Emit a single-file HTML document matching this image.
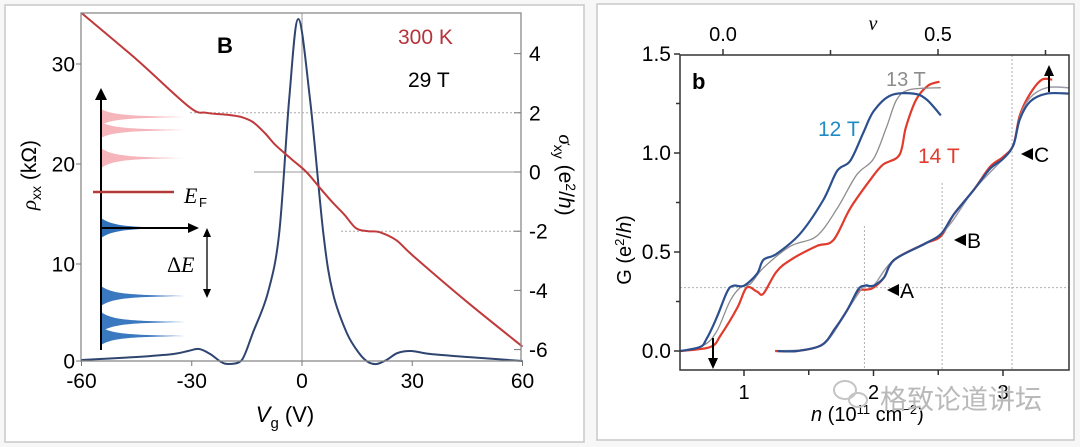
<!DOCTYPE html>
<html><head><meta charset="utf-8">
<style>
html,body{margin:0;padding:0;background:#fff;}
svg{display:block;font-family:"Liberation Sans",Arial,sans-serif;}
</style></head>
<body>
<svg id="fig" width="1080" height="447" viewBox="0 0 1080 447" xmlns="http://www.w3.org/2000/svg">
  <rect x="0" y="0" width="1080" height="447" fill="#f7f7f7"/>
  <rect x="5" y="5" width="579" height="437" fill="#fff" stroke="#c8c8c8" stroke-width="1.5"/>
  <rect x="597" y="4" width="477" height="436" fill="#fff" stroke="#c8c8c8" stroke-width="1.5"/>
  <g id="left"></g>
  <g id="right"></g>
  <text x="880" y="409" font-family="'Liberation Sans','Noto Sans CJK SC',sans-serif" font-size="27" fill="#b9b9b9">格致论道讲坛</text>
  <g fill="none" stroke="#c4c4c4" stroke-width="2"><ellipse cx="845" cy="390" rx="11" ry="9"/><ellipse cx="858" cy="400" rx="9" ry="7"/></g>
</svg>
<script>
// ===== Left panel data =====
const vgTicks = [-60,-30,0,30,60];
const rhoTicks = [0,10,20,30];
const sigmaTicks = [4,2,0,-2,-4,-6];
const sigmaV = [-60,-45,-30.7,-26,-20,-16.6,-13.4,-10,-7.2,-3,1.2,5.3,8.5,11.6,14.7,18,21,25.6,30.3,45,60];
const sigmaVal = [5.37,3.8,2.2,2.0,1.93,1.86,1.69,1.3,0.91,0.45,0,-0.6,-1.05,-1.45,-1.9,-2.0,-2.03,-2.3,-2.84,-4.4,-5.9];
const rhoV = [-60,-45,-35,-31,-28,-25,-22,-20,-17,-15.5,-13.4,-9.3,-6.2,-3.5,-1,2.2,5.8,8.4,12.2,15.7,18,20.3,23,26,29.7,35,45,60];
const rhoVal = [0.4,0.7,1.0,1.3,1.5,1.0,0.2,0.0,0.2,1.0,3.1,7.1,13.1,26.4,34.5,26.4,13.1,7.1,3.1,1.0,0.2,0.0,0.4,1.1,1.3,1.0,0.7,0.3];

// ===== Right panel data =====
const nTicks = [1,2,3];
const nMinor = [1.5,2.5];
const gTicks = [0.0,0.5,1.0,1.5];
const nuTicks = [0.0,0.5];
const t12n = [0.51,0.66,0.71,0.79,0.87,0.92,1.0,1.1,1.15,1.25,1.43,1.61,1.72,1.82,1.92,2.0,2.13,2.31,2.41,2.52];
const t12g = [0,0.02,0.06,0.17,0.30,0.33,0.33,0.39,0.46,0.49,0.59,0.76,0.91,0.96,1.10,1.21,1.29,1.30,1.27,1.19];
const t13n = [0.51,0.69,0.79,0.89,0.97,1.05,1.15,1.36,1.56,1.72,1.87,2.0,2.1,2.18,2.28,2.52];
const t13g = [0,0.03,0.10,0.25,0.32,0.34,0.42,0.53,0.58,0.72,0.89,0.97,1.13,1.27,1.32,1.33];
const t14n = [0.51,0.74,0.82,0.95,1.02,1.1,1.15,1.25,1.36,1.56,1.69,1.82,1.97,2.07,2.2,2.25,2.33,2.42,2.51];
const t14g = [0,0.02,0.08,0.22,0.32,0.30,0.29,0.40,0.46,0.53,0.56,0.72,0.86,0.94,0.99,1.13,1.27,1.34,1.36];
const rBn = [1.26,1.41,1.6,1.7,1.8,1.88,1.93,2.0,2.08,2.16,2.39,2.52,2.62,2.77,2.9,3.0,3.08,3.13,3.21,3.34,3.51];
const rBg = [0,0,0.03,0.11,0.21,0.31,0.33,0.33,0.37,0.46,0.54,0.59,0.69,0.81,0.92,0.97,1.04,1.17,1.26,1.30,1.30];
const rRn = [1.24,1.41,1.6,1.7,1.8,1.88,1.95,2.0,2.08,2.16,2.39,2.52,2.62,2.77,2.9,3.0,3.08,3.13,3.21,3.3,3.38];
const rRg = [0,0,0.03,0.11,0.21,0.30,0.31,0.32,0.37,0.46,0.54,0.58,0.69,0.81,0.93,0.98,1.04,1.19,1.30,1.37,1.37];
const rGn = [1.26,1.6,1.8,1.93,2.0,2.16,2.52,2.77,3.0,3.08,3.13,3.21,3.34,3.51];
const rGg = [0,0.03,0.21,0.33,0.33,0.46,0.59,0.81,0.97,1.04,1.18,1.28,1.33,1.33];

const NS='http://www.w3.org/2000/svg';
function mk(parent, tag, attrs, text){
  const e=document.createElementNS(NS,tag);
  for(const k in attrs) e.setAttribute(k,attrs[k]);
  if(text!==undefined) e.textContent=text;
  parent.appendChild(e); return e;
}
function smooth(pts){
  let d='M'+pts[0][0].toFixed(1)+','+pts[0][1].toFixed(1);
  for(let i=0;i<pts.length-1;i++){
    const p0=pts[Math.max(0,i-1)],p1=pts[i],p2=pts[i+1],p3=pts[Math.min(pts.length-1,i+2)];
    const c1=[p1[0]+(p2[0]-p0[0])/6,p1[1]+(p2[1]-p0[1])/6];
    const c2=[p2[0]-(p3[0]-p1[0])/6,p2[1]-(p3[1]-p1[1])/6];
    d+=' C'+c1[0].toFixed(1)+','+c1[1].toFixed(1)+' '+c2[0].toFixed(1)+','+c2[1].toFixed(1)+' '+p2[0].toFixed(1)+','+p2[1].toFixed(1);
  }
  return d;
}

// ===== Left chart =====
const L=document.getElementById('left');
const xV=v=>302+3.675*v;
const yR=r=>364-10*r;
const yS=s=>172-29.6*s;
const LX0=81,LX1=521,LY0=13,LY1=361;
const gridL=mk(L,'g',{});


mk(gridL,'line',{x1:xV(0),x2:xV(0),y1:LY0,y2:LY1,stroke:'#9a9a9a','stroke-width':1});
mk(gridL,'line',{x1:190,x2:LX1,y1:yS(2),y2:yS(2),stroke:'#aaa','stroke-width':1,'stroke-dasharray':'2,2'});
mk(gridL,'line',{x1:254,x2:LX1,y1:yS(0),y2:yS(0),stroke:'#9a9a9a','stroke-width':1});
mk(gridL,'line',{x1:341,x2:LX1,y1:yS(-2),y2:yS(-2),stroke:'#aaa','stroke-width':1,'stroke-dasharray':'2,2'});

// inset
const ins=mk(L,'g',{});


function peak(c,h,tip,col){ mk(ins,'path',{d:`M101,${c-h} C112,${c-2} 130,${c-1} ${tip},${c} C130,${c+1} 112,${c+2} 101,${c+h} Z`,fill:col}); }
peak(117,8,185,'#f5b5ba');peak(130,8,185,'#f5b5ba');peak(158,10,184,'#f5b5ba');
peak(228,10,170,'#2f6fb8');peak(296,10,185,'#3a78c0');peak(322,10,185,'#3a78c0');peak(336,9,185,'#3a78c0');
mk(ins,'line',{x1:101,y1:350,x2:101,y2:98,stroke:'#000','stroke-width':2});
mk(ins,'path',{d:'M95,100 L101,88 L107,100 Z',fill:'#000'});
mk(ins,'line',{x1:101,y1:228,x2:190,y2:228,stroke:'#000','stroke-width':2});
mk(ins,'path',{d:'M188,223 L199,228 L188,233 Z',fill:'#000'});
mk(ins,'line',{x1:93,y1:192,x2:174,y2:192,stroke:'#b33a3a','stroke-width':2.5});
mk(ins,'text',{x:184,y:203,'font-family':'Liberation Serif,serif','font-style':'italic','font-size':22},'E');
mk(ins,'text',{x:199,y:207,'font-family':'Liberation Sans,sans-serif','font-size':13},'F');
mk(ins,'line',{x1:207,y1:234,x2:207,y2:292,stroke:'#000','stroke-width':1.3});
mk(ins,'path',{d:'M203,237 L207,228 L211,237 Z M203,289 L207,298 L211,289 Z',fill:'#000'});
mk(ins,'text',{x:167,y:272,'font-family':'Liberation Serif,serif','font-size':22},'Δ');
mk(ins,'text',{x:181,y:272,'font-family':'Liberation Serif,serif','font-style':'italic','font-size':22},'E');

// series
const rhoPts=rhoV.map((v,i)=>[xV(v),yR(rhoVal[i])]);
const rhoLine=mk(L,'path',{d:smooth(rhoPts),fill:'none',stroke:'#2f4570','stroke-width':2});


const sigPts=sigmaV.map((v,i)=>[xV(v),yS(sigmaVal[i])]);
const sigLine=mk(L,'path',{d:smooth(sigPts),fill:'none',stroke:'#c0393b','stroke-width':2});



// axes
const frameL=mk(L,'rect',{x:LX0,y:LY0,width:LX1-LX0,height:LY1-LY0,fill:'none',stroke:'#8a8a8a','stroke-width':1.3});


vgTicks.forEach(v=>{
  mk(L,'line',{x1:xV(v),x2:xV(v),y1:LY1,y2:LY1+5,stroke:'#777'});
  const t=mk(L,'text',{x:xV(v),y:388,'text-anchor':'middle','font-size':21},String(v));
  
  
});
rhoTicks.forEach(r=>{
  const y=Math.min(yR(r),LY1);
  mk(L,'line',{x1:LX0-5,x2:LX0,y1:y,y2:y,stroke:'#777'});
  const t=mk(L,'text',{x:75,y:y+7.5,'text-anchor':'end','font-size':21},String(r));
  
  
});
sigmaTicks.forEach(s=>{
  mk(L,'line',{x1:LX1-7,x2:LX1,y1:yS(s),y2:yS(s),stroke:'#777'});
  const t=mk(L,'text',{x:529,y:yS(s)+7.5,'font-size':21},String(s));
  
  
});
let t;
t=mk(L,'text',{transform:'translate(36,175) rotate(-90)','text-anchor':'middle','font-size':21});
t.innerHTML='<tspan font-family="Liberation Serif,serif" font-style="italic">ρ</tspan><tspan font-size="14" dy="5">xx</tspan><tspan dy="-5"> (kΩ)</tspan>';


t=mk(L,'text',{transform:'translate(559,175) rotate(90)','text-anchor':'middle','font-size':21});
t.innerHTML='<tspan font-family="Liberation Serif,serif" font-style="italic">σ</tspan><tspan font-size="14" dy="5">xy</tspan><tspan dy="-5"> (e</tspan><tspan font-size="14" dy="-7">2</tspan><tspan dy="7">/</tspan><tspan font-style="italic">h</tspan>)';


t=mk(L,'text',{x:285,y:422,'text-anchor':'middle','font-size':22});
t.innerHTML='<tspan font-style="italic">V</tspan><tspan font-size="15" dy="6">g</tspan><tspan dy="-6"> (V)</tspan>';


t=mk(L,'text',{x:225,y:53,'text-anchor':'middle','font-size':22,'font-weight':'bold'},'B');


t=mk(L,'text',{x:398,y:44,'font-size':21,fill:'#b5333a'},'300 K');


t=mk(L,'text',{x:408,y:87,'font-size':21},'29 T');



// ===== Right chart =====
const R=document.getElementById('right');
const xN=n=>744+129.5*(n-1);
const yG=g=>351-198*g;
const xNu=u=>723+430*u;
const RX0=680,RX1=1069,RY0=55,RY1=370;
const gr=mk(R,'g',{stroke:'#b0b0b0','stroke-width':1,'stroke-dasharray':'2,2'});


mk(gr,'line',{x1:RX0,x2:RX1,y1:yG(0.32),y2:yG(0.32)});
mk(gr,'line',{x1:xN(1.93),x2:xN(1.93),y1:226,y2:RY1});
mk(gr,'line',{x1:xN(2.53),x2:xN(2.53),y1:183,y2:RY1});
mk(gr,'line',{x1:xN(3.07),x2:xN(3.07),y1:RY0,y2:RY1});

function curve(ns,gs,col,w,name){
  const p=mk(R,'path',{d:smooth(ns.map((n,i)=>[xN(n),yG(gs[i])])),fill:'none',stroke:col,'stroke-width':w});
  
  
}
curve(rRn,rRg,'#e03b2c',2.2,'curve-right-14t');
curve(rGn,rGg,'#9a9aa8',1.5,'curve-right-13t');
curve(rBn,rBg,'#2c4f8e',2.2,'curve-right-12t');
curve(t14n,t14g,'#e03b2c',2.2,'curve-14t');
curve(t13n,t13g,'#8d8d8d',1.3,'curve-13t');
curve(t12n,t12g,'#2c4f8e',2.2,'curve-12t');

const frameR=mk(R,'rect',{x:RX0,y:RY0,width:RX1-RX0,height:RY1-RY0,fill:'none',stroke:'#333','stroke-width':1.5});


nTicks.forEach(n=>{
  mk(R,'line',{x1:xN(n),x2:xN(n),y1:RY1,y2:RY1+6,stroke:'#333','stroke-width':1.5});
  const t=mk(R,'text',{x:xN(n),y:399,'text-anchor':'middle','font-size':20},String(n));
  
  
});
nMinor.forEach(n=>mk(R,'line',{x1:xN(n),x2:xN(n),y1:RY1,y2:RY1+5,stroke:'#333','stroke-width':1.5}));
gTicks.forEach(g=>{
  mk(R,'line',{x1:RX0-6,x2:RX0,y1:yG(g),y2:yG(g),stroke:'#333','stroke-width':1.5});
  if(g>0) mk(R,'line',{x1:RX0-4,x2:RX0,y1:yG(g-0.25),y2:yG(g-0.25),stroke:'#333','stroke-width':1.5});
  const t=mk(R,'text',{x:671,y:yG(g)+7,'text-anchor':'end','font-size':21},g.toFixed(1));
  
  
});
nuTicks.forEach(u=>{
  mk(R,'line',{x1:xNu(u),x2:xNu(u),y1:RY0-6,y2:RY0,stroke:'#333','stroke-width':1.5});
  const t=mk(R,'text',{x:xNu(u),y:41,'text-anchor':'middle','font-size':20},u.toFixed(1));
  
  
});
[0.25,0.75].forEach(u=>mk(R,'line',{x1:xNu(u),x2:xNu(u),y1:RY0-5,y2:RY0,stroke:'#333','stroke-width':1.5}));
t=mk(R,'text',{x:873,y:30,'text-anchor':'middle','font-size':20,'font-family':'Liberation Serif,serif','font-style':'italic'},'ν');


t=mk(R,'text',{transform:'translate(631,250) rotate(-90)','text-anchor':'middle','font-size':20});
t.innerHTML='G (e<tspan font-size="13" dy="-7">2</tspan><tspan dy="7">/</tspan><tspan font-style="italic">h</tspan>)';


t=mk(R,'text',{x:811,y:421,'font-size':20});
t.innerHTML='<tspan font-style="italic">n</tspan> (10<tspan font-size="13" dy="-7">11</tspan><tspan dy="7"> cm</tspan><tspan font-size="13" dy="-7">−2</tspan><tspan dy="7">)</tspan>';


t=mk(R,'text',{x:692,y:89,'font-size':22,'font-weight':'bold'},'b');


t=mk(R,'text',{x:886,y:86,'font-size':20,fill:'#8c8c8c'},'13 T');


t=mk(R,'text',{x:818,y:136,'font-size':21,fill:'#1f8ac4'},'12 T');


t=mk(R,'text',{x:918,y:163,'font-size':21,fill:'#e03b2c'},'14 T');


[['A',887,290],['B',954,240],['C',1021,154]].forEach(a=>{
  const g=mk(R,'g',{});
  
  
  mk(g,'path',{d:`M${a[1]},${a[2]} L${a[1]+12},${a[2]-6} L${a[1]+12},${a[2]+6} Z`,fill:'#000'});
  mk(g,'text',{x:a[1]+13,y:a[2]+8,'font-size':21},a[0]);
});
mk(R,'line',{x1:713,x2:713,y1:338,y2:360,stroke:'#000','stroke-width':2});
mk(R,'path',{d:'M708,358 L713,369 L718,358 Z',fill:'#000'});
mk(R,'line',{x1:1049,x2:1049,y1:92,y2:74,stroke:'#000','stroke-width':2});
mk(R,'path',{d:'M1044,76 L1049,65 L1054,76 Z',fill:'#000'});
</script>
</body></html>
